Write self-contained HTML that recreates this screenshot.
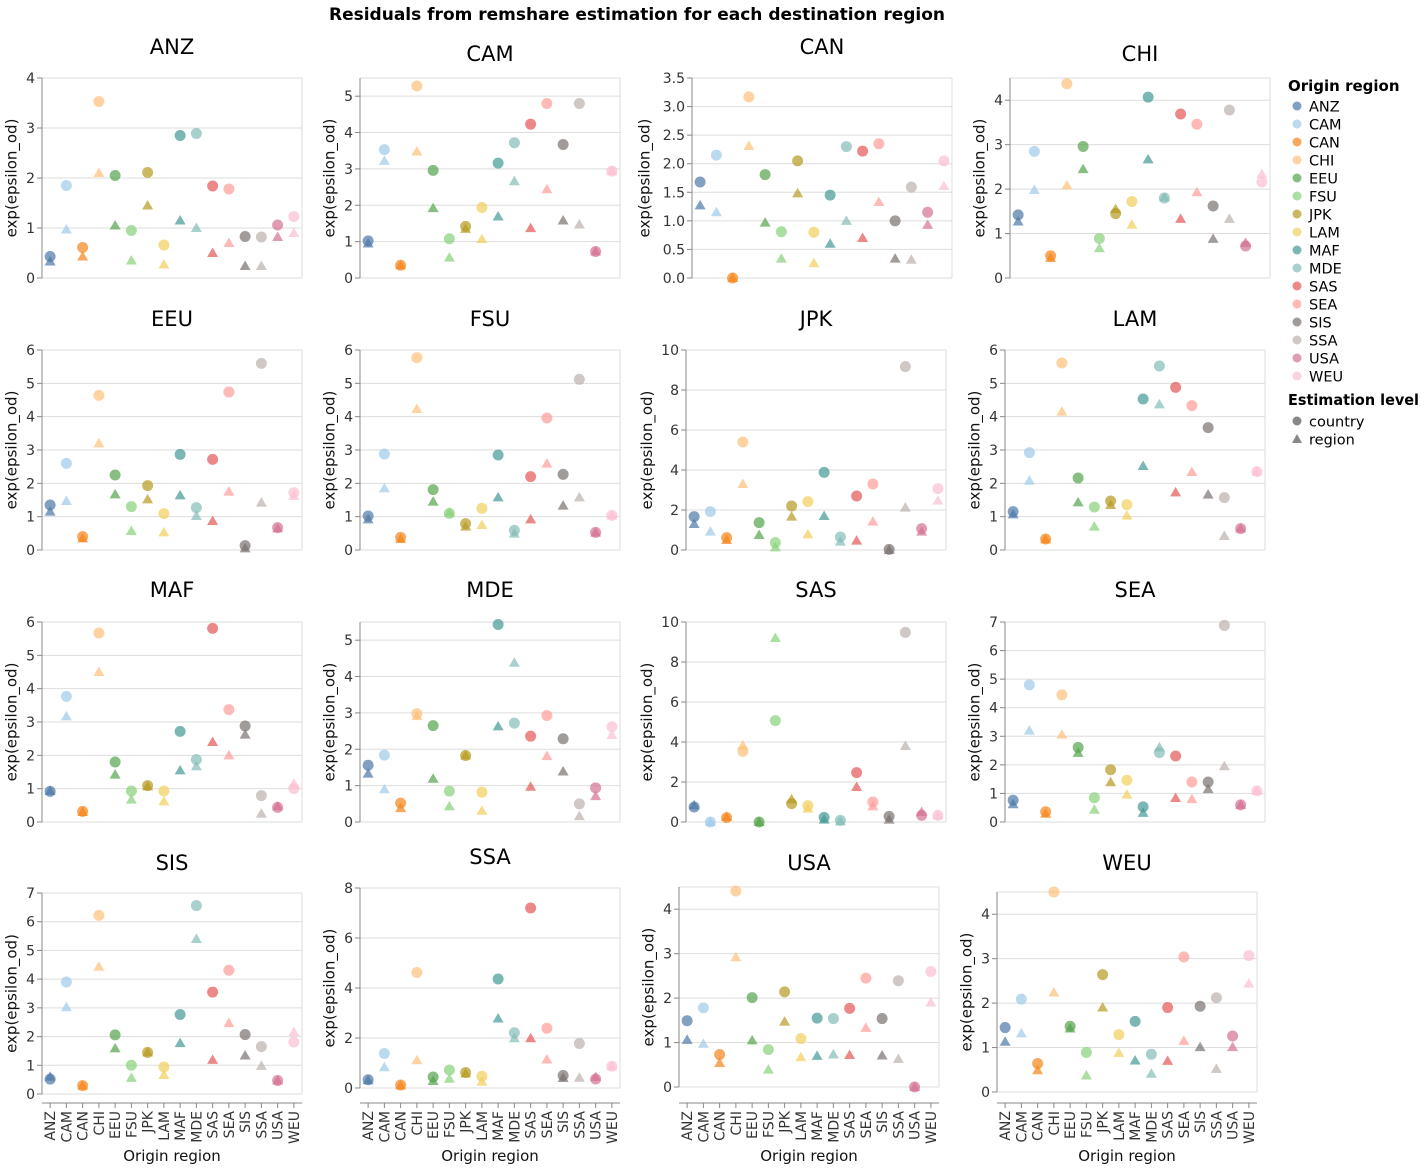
<!DOCTYPE html>
<html><head><meta charset="utf-8">
<style>
html,body{margin:0;padding:0;background:#fff;}
svg{display:block;font-family:"DejaVu Sans","Liberation Sans",sans-serif;}
</style></head>
<body>
<svg id="chart" width="1425" height="1169" viewBox="0 0 1425 1169" xmlns="http://www.w3.org/2000/svg">
<text x="637" y="20" text-anchor="middle" font-size="17" font-weight="bold" fill="#000">Residuals from remshare estimation for each destination region</text>
</svg>
<script>
const regions = ["ANZ","CAM","CAN","CHI","EEU","FSU","JPK","LAM","MAF","MDE","SAS","SEA","SIS","SSA","USA","WEU"];
const colors = ["#4c78a8","#9ecae9","#f58518","#ffbf79","#54a24b","#88d27a","#b79a20","#f2cf5b","#439894","#83bcb6","#e45756","#ff9d98","#79706e","#bab0ac","#d67195","#fcbfd2"];
const countryANZ=[0.43,1.85,0.61,3.53,2.05,0.95,2.11,0.66,2.85,2.89,1.84,1.78,0.83,0.82,1.06,1.23];
const regionANZ=[0.33,0.97,0.43,2.1,1.05,0.35,1.45,0.27,1.15,1.0,0.5,0.7,0.24,0.24,0.82,0.9];
const countryCAM=[1.02,3.53,0.35,5.28,2.96,1.08,1.42,1.94,3.16,3.72,4.23,4.8,3.67,4.8,0.73,2.94];
const regionCAM=[0.95,3.22,0.35,3.48,1.92,0.56,1.35,1.07,1.69,2.66,1.37,2.44,1.58,1.47,0.73,2.94];
const countryCAN=[1.68,2.15,0.0,3.17,1.81,0.81,2.05,0.8,1.45,2.3,2.22,2.35,1.0,1.59,1.15,2.05];
const regionCAN=[1.27,1.15,0.0,2.31,0.97,0.34,1.48,0.26,0.6,1.0,0.7,1.33,0.34,0.32,0.93,1.61];
const countryCHI=[1.42,2.85,0.5,4.37,2.96,0.89,1.45,1.72,4.07,1.8,3.69,3.46,1.62,3.78,0.72,2.16];
const regionCHI=[1.27,1.98,0.45,2.08,2.45,0.67,1.55,1.2,2.67,1.81,1.33,1.93,0.88,1.33,0.79,2.34];
const countryEEU=[1.35,2.6,0.4,4.64,2.25,1.3,1.93,1.09,2.87,1.27,2.72,4.74,0.13,5.6,0.67,1.72];
const regionEEU=[1.15,1.47,0.35,3.2,1.67,0.57,1.52,0.53,1.64,1.02,0.87,1.75,0.05,1.42,0.65,1.62];
const countryFSU=[1.02,2.88,0.38,5.77,1.81,1.1,0.79,1.25,2.85,0.59,2.2,3.96,2.27,5.12,0.53,1.04];
const regionFSU=[0.92,1.85,0.33,4.23,1.45,1.12,0.7,0.75,1.58,0.49,0.92,2.59,1.33,1.58,0.52,1.04];
const countryJPK=[1.67,1.92,0.62,5.4,1.37,0.37,2.2,2.42,3.88,0.65,2.7,3.3,0.03,9.17,1.07,3.07];
const regionJPK=[1.3,0.92,0.5,3.3,0.75,0.13,1.67,0.78,1.7,0.42,0.47,1.42,0.0,2.12,0.92,2.47];
const countryLAM=[1.15,2.92,0.33,5.61,2.16,1.29,1.47,1.36,4.53,5.52,4.88,4.33,3.67,1.57,0.64,2.35];
const regionLAM=[1.07,2.08,0.32,4.15,1.43,0.7,1.35,1.03,2.52,4.37,1.73,2.34,1.66,0.42,0.65,2.35];
const countryMAF=[0.92,3.77,0.32,5.67,1.8,0.93,1.09,0.93,2.72,1.87,5.81,3.37,2.88,0.79,0.44,1.0];
const regionMAF=[0.93,3.17,0.3,4.5,1.42,0.67,1.07,0.62,1.55,1.67,2.4,2.0,2.62,0.25,0.47,1.15];
const countryMDE=[1.56,1.84,0.52,2.98,2.65,0.85,1.83,0.82,5.43,2.72,2.36,2.93,2.29,0.5,0.94,2.62];
const regionMDE=[1.33,0.9,0.38,2.91,1.19,0.43,1.83,0.31,2.63,4.38,0.97,1.81,1.39,0.16,0.71,2.39];
const countrySAS=[0.75,0.0,0.22,3.53,0.0,5.07,0.92,0.82,0.23,0.08,2.47,1.0,0.28,9.48,0.33,0.33];
const regionSAS=[0.83,0.0,0.25,3.83,0.0,9.2,1.13,0.67,0.12,0.03,1.75,0.78,0.12,3.8,0.5,0.33];
const countrySEA=[0.76,4.8,0.36,4.45,2.61,0.85,1.83,1.46,0.53,2.43,2.31,1.4,1.4,6.88,0.6,1.09];
const regionSEA=[0.62,3.2,0.29,3.06,2.42,0.43,1.39,0.96,0.32,2.61,0.84,0.8,1.15,1.95,0.6,1.09];
const countrySIS=[0.52,3.9,0.29,6.22,2.06,1.0,1.45,0.94,2.77,6.56,3.55,4.31,2.07,1.65,0.47,1.81];
const regionSIS=[0.6,3.02,0.29,4.43,1.59,0.56,1.45,0.66,1.77,5.4,1.19,2.47,1.34,0.98,0.47,2.16];
const countrySSA=[0.33,1.38,0.12,4.62,0.44,0.72,0.62,0.47,4.36,2.21,7.2,2.39,0.5,1.78,0.36,0.87];
const regionSSA=[0.31,0.83,0.1,1.11,0.28,0.37,0.58,0.25,2.78,1.99,1.99,1.14,0.4,0.41,0.44,0.87];
const countryUSA=[1.49,1.78,0.73,4.41,2.01,0.84,2.14,1.09,1.55,1.54,1.77,2.45,1.54,2.39,0.0,2.6];
const regionUSA=[1.06,0.97,0.54,2.92,1.05,0.39,1.47,0.67,0.7,0.73,0.72,1.33,0.71,0.63,0.0,1.9];
const countryWEU=[1.45,2.09,0.64,4.5,1.48,0.89,2.64,1.29,1.59,0.85,1.9,3.04,1.93,2.12,1.26,3.07];
const regionWEU=[1.13,1.32,0.49,2.24,1.43,0.37,1.9,0.88,0.71,0.41,0.7,1.15,1.01,0.52,1.01,2.44];
const yMax=[4,5.5,3.5,4.5,6,6,10,6,6,5.5,10,7,7,8,4.5,4.5];
const yStep=[1,1,0.5,1,1,1,2,1,1,1,2,1,1,2,1,1];

const panels=[
 {name:"ANZ",c:countryANZ,r:regionANZ,x:42,top:78,bot:278,ty:54},
 {name:"CAM",c:countryCAM,r:regionCAM,x:360,top:78,bot:278,ty:61},
 {name:"CAN",c:countryCAN,r:regionCAN,x:692,top:78,bot:278,ty:54},
 {name:"CHI",c:countryCHI,r:regionCHI,x:1010,top:78,bot:278,ty:61},
 {name:"EEU",c:countryEEU,r:regionEEU,x:42,top:350,bot:550,ty:326},
 {name:"FSU",c:countryFSU,r:regionFSU,x:360,top:350,bot:550,ty:326},
 {name:"JPK",c:countryJPK,r:regionJPK,x:686,top:350,bot:550,ty:326},
 {name:"LAM",c:countryLAM,r:regionLAM,x:1005,top:350,bot:550,ty:326},
 {name:"MAF",c:countryMAF,r:regionMAF,x:42,top:622,bot:822,ty:597},
 {name:"MDE",c:countryMDE,r:regionMDE,x:360,top:622,bot:822,ty:597},
 {name:"SAS",c:countrySAS,r:regionSAS,x:686,top:622,bot:822,ty:597},
 {name:"SEA",c:countrySEA,r:regionSEA,x:1005,top:622,bot:822,ty:597},
 {name:"SIS",c:countrySIS,r:regionSIS,x:42,top:893,bot:1094,ty:870},
 {name:"SSA",c:countrySSA,r:regionSSA,x:360,top:888,bot:1088,ty:864},
 {name:"USA",c:countryUSA,r:regionUSA,x:679,top:887,bot:1087,ty:870},
 {name:"WEU",c:countryWEU,r:regionWEU,x:997,top:892,bot:1092,ty:870}
];
const NS="http://www.w3.org/2000/svg";
const svg=document.getElementById("chart");
const W=260, AXY=1103;
function mk(tag,attrs,parent){const e=document.createElementNS(NS,tag);for(const k in attrs)e.setAttribute(k,attrs[k]);(parent||svg).appendChild(e);return e;}

panels.forEach((p,pi)=>{
  const g=mk("g",{});
  
  
  const max=yMax[pi], step=yStep[pi];
  const yS=v=>p.bot-(v/max)*(p.bot-p.top);
  const xS=i=>p.x+(i+0.5)*W/16;
  const nT=Math.floor(max/step+1e-9);
  for(let k=0;k<=nT;k++){
    const v=k*step, y=yS(v);
    const gl=mk("line",{x1:p.x,x2:p.x+W,y1:y,y2:y,stroke:"#ddd","stroke-width":1},g);
    
    
    mk("line",{x1:p.x-5,x2:p.x,y1:y,y2:y,stroke:"#888"},g);
    const t=mk("text",{x:p.x-7,y:y+5,"text-anchor":"end","font-size":14,fill:"#333"},g);
    t.textContent=step<1?v.toFixed(1):String(v);
    
    
  }
  mk("line",{x1:p.x+W,x2:p.x+W,y1:p.top,y2:p.bot,stroke:"#ddd"},g);
  mk("line",{x1:p.x,x2:p.x+W,y1:p.top,y2:p.top,stroke:"#ddd"},g);
  mk("line",{x1:p.x,x2:p.x,y1:p.top,y2:p.bot,stroke:"#888"},g);
  const chars=step<1?3:(max>=10?2:1);
  const tx=p.x-(chars*8.5+17), my=(p.top+p.bot)/2;
  const yt=mk("text",{x:tx,y:my,"text-anchor":"middle","font-size":15,fill:"#111",transform:`rotate(-90 ${tx} ${my})`},g);
  yt.textContent="exp(epsilon_od)";
  
  
  const pt=mk("text",{x:p.x+W/2,y:p.ty,"text-anchor":"middle","font-size":21,fill:"#000"},g);
  pt.textContent=p.name;
  
  
  regions.forEach((r,i)=>{
    const cx=xS(i);
    const ry=yS(p.r[i]);
    const tri=mk("path",{d:`M${cx},${ry-5.5}L${cx+5.5},${ry+4}L${cx-5.5},${ry+4}Z`,fill:colors[i],"fill-opacity":0.7},g);
    
    
    const cy=yS(p.c[i]);
    const c=mk("circle",{cx:cx,cy:cy,r:5.5,fill:colors[i],"fill-opacity":0.7},g);
    
    
  });
  if(pi>=12){
    mk("line",{x1:p.x,x2:p.x+W,y1:AXY,y2:AXY,stroke:"#888"},g);
    regions.forEach((r,i)=>{
      const cx=xS(i);
      mk("line",{x1:cx,x2:cx,y1:AXY,y2:AXY+5,stroke:"#888"},g);
      const t=mk("text",{x:cx+5,y:AXY+8,"text-anchor":"end","font-size":14,fill:"#333",transform:`rotate(-90 ${cx+5} ${AXY+8})`},g);
      t.textContent=r;
      
      
    });
    const xt=mk("text",{x:p.x+W/2,y:1161,"text-anchor":"middle","font-size":15,fill:"#111"},g);
    xt.textContent="Origin region";
    
    
  }
});
const lg=mk("g",{});


const lt=mk("text",{x:1288,y:91,"font-size":15,"font-weight":"bold",fill:"#000"},lg);
lt.textContent="Origin region";
regions.forEach((r,i)=>{
  const y=106+i*18;
  const e=mk("g",{},lg);
  
  
  mk("circle",{cx:1297,cy:y,r:4.5,fill:colors[i],"fill-opacity":0.7},e);
  const t=mk("text",{x:1309,y:y+5.5,"font-size":14.5,fill:"#000"},e);
  t.textContent=r;
});
const lt2=mk("text",{x:1288,y:405,"font-size":15,"font-weight":"bold",fill:"#000",textLength:131,lengthAdjust:"spacingAndGlyphs"},lg);
lt2.textContent="Estimation level";
const e1=mk("g",{},lg);


mk("circle",{cx:1297,cy:421,r:4.5,fill:"#555","fill-opacity":0.7},e1);
const t1=mk("text",{x:1309,y:426.5,"font-size":14.5,fill:"#000"},e1);t1.textContent="country";
const e2=mk("g",{},lg);


mk("path",{d:"M1297,434L1302,443L1292,443Z",fill:"#555","fill-opacity":0.7},e2);
const t2=mk("text",{x:1309,y:444.5,"font-size":14.5,fill:"#000"},e2);t2.textContent="region";
</script>
</body></html>
